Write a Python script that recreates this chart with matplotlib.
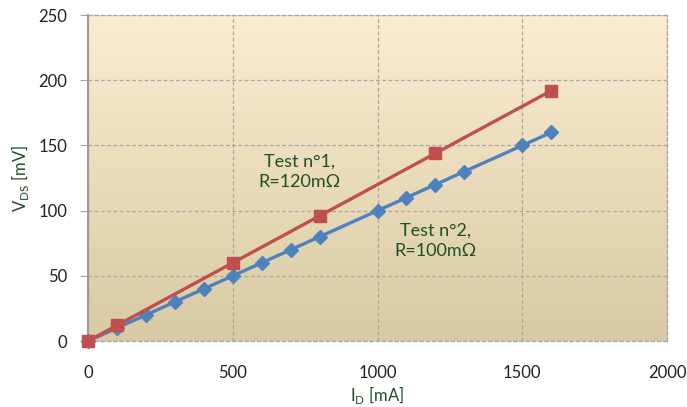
import matplotlib.pyplot as plt
import numpy as np
from matplotlib.colors import LinearSegmentedColormap

# Test n°2 (blue diamonds)
ID_2 = [0, 100, 200, 300, 400, 500, 600, 700, 800, 1000, 1100, 1200, 1300, 1500, 1600]
VDS_2 = [0, 10, 20, 30, 40, 50, 60, 70, 80, 100, 110, 120, 130, 150, 160]

# Test n°1 (red squares)
ID_1 = [0, 100, 500, 800, 1200, 1600]
VDS_1 = [0, 12, 60, 96, 144, 192]

X_TICKS = [0, 500, 1000, 1500, 2000]
Y_TICKS = [0, 50, 100, 150, 200, 250]

RED = "#C0504D"
BLUE = "#4F81BD"
GREEN_TEXT = "#1F4E2B"
GRID = "#A6A6A6"

plt.rcParams["font.family"] = ["Lato", "DejaVu Sans"]

fig = plt.figure(figsize=(6.87, 4.07), dpi=100)
ax = fig.add_axes([0.128, 0.162, 0.843, 0.801])

# vertical gradient background
cmap = LinearSegmentedColormap.from_list("bg", ["#D8CAA4", "#FCECD3"])
grad = np.linspace(0, 1, 256).reshape(-1, 1)
ax.imshow(grad, cmap=cmap, aspect="auto", origin="lower",
          extent=(0, 2000, 0, 250), zorder=0)

ax.set_xlim(0, 2000)
ax.set_ylim(0, 250)
ax.set_xticks(X_TICKS)
ax.set_yticks(Y_TICKS)

ax.grid(True, color=GRID, linestyle=(0, (3, 2)), linewidth=0.9, zorder=1)
for side in ["top", "right", "bottom"]:
    ax.spines[side].set_visible(True)
    ax.spines[side].set_color(GRID)
    ax.spines[side].set_linestyle((0, (3, 2)))
    ax.spines[side].set_linewidth(0.9)
ax.spines["left"].set_color("#9A9A9A")
ax.spines["left"].set_linewidth(1.5)

ax.tick_params(axis="y", length=6, color=GRID, pad=9, labelsize=12, labelcolor="#222222")
ax.tick_params(axis="x", length=0, pad=17, labelsize=12, labelcolor="#222222")

ax.plot(ID_2, VDS_2, color=BLUE, linewidth=2.4, marker="D", markersize=7.5,
        zorder=3, clip_on=False)
ax.plot(ID_1, VDS_1, color=RED, linewidth=2.4, marker="s", markersize=9,
        zorder=4, clip_on=False)

ax.text(732, 130, "Test n°1,\nR=120mΩ", color=GREEN_TEXT, fontsize=13,
        ha="center", va="center", linespacing=1.35, zorder=5)
ax.text(1199, 77, "Test n°2,\nR=100mΩ", color=GREEN_TEXT, fontsize=13,
        ha="center", va="center", linespacing=1.35, zorder=5)

ax.set_xlabel("I$_\\mathregular{D}$ [mA]", color=GREEN_TEXT, fontsize=12)
ax.xaxis.set_label_coords(0.5, -0.132)
ax.set_ylabel("V$_\\mathregular{DS}$ [mV]", color=GREEN_TEXT, fontsize=12, labelpad=5)

fig.savefig("out.png", dpi=100)
